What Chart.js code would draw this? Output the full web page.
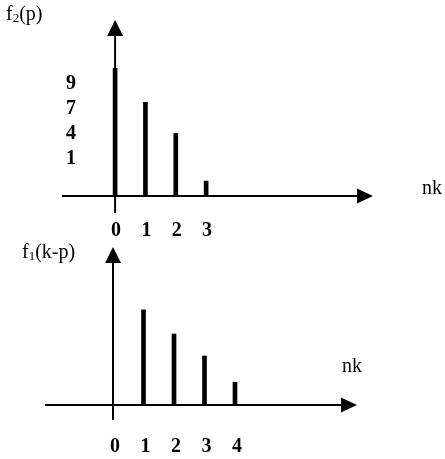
<!DOCTYPE html>
<html>
<head>
<meta charset="utf-8">
<script src="https://cdn.jsdelivr.net/npm/chart.js@4.4.1/dist/chart.umd.min.js"></script>
<style>
  html, body { margin:0; padding:0; background:#fff; }
  #wrap { position:relative; width:445px; height:459px; }
  .box { position:absolute; left:0; width:445px; }
  #b1 { top:0; height:245px; }
  #b2 { top:235px; height:224px; }
</style>
</head>
<body>
<div id="wrap">
  <div class="box" id="b1"><canvas id="c1"></canvas></div>
  <div class="box" id="b2"><canvas id="c2"></canvas></div>
</div>
<script>
// ---- data ----
const topPositions = [0, 1, 2, 3];
const topValues = [9, 6.6, 4.4, 1.05];
const topTickLabels = ['0', '1', '2', '3'];
const topSideLabels = ['9', '7', '4', '1'];
const topYLabel = ['f', '2', '(p)'];

const botPositions = [1, 2, 3, 4];
const botValues = [6.7, 5.0, 3.45, 1.6];
const botTickLabels = ['0', '1', '2', '3', '4'];
const botYLabel = ['f', '1', '(k-p)'];
const xAxisLabel = 'nk';

const SERIF = '"Liberation Serif", "Times New Roman", serif';

function drawSubLabel(ctx, parts, x, y) {
  ctx.textBaseline = 'middle';
  ctx.textAlign = 'left';
  ctx.font = '20px ' + SERIF;
  ctx.fillText(parts[0], x, y);
  let w = ctx.measureText(parts[0]).width;
  ctx.font = '13px ' + SERIF;
  ctx.fillText(parts[1], x + w, y + 4);
  w += ctx.measureText(parts[1]).width;
  ctx.font = '20px ' + SERIF;
  ctx.fillText(parts[2], x + w, y);
}

function makeAxesPlugin(cfg) {
  return {
    id: 'axes_' + cfg.id,
    beforeDatasetsDraw(chart) {
      const ctx = chart.ctx;
      const xs = chart.scales.x, ys = chart.scales.y;
      const a = chart.chartArea;
      const x0 = xs.getPixelForValue(0);
      const y0 = ys.getPixelForValue(0);
      ctx.save();
      ctx.strokeStyle = '#000';
      ctx.fillStyle = '#000';
      ctx.lineWidth = 2;
      // horizontal axis
      ctx.beginPath();
      ctx.moveTo(a.left, y0);
      ctx.lineTo(a.right - 12, y0);
      ctx.stroke();
      ctx.beginPath();
      ctx.moveTo(a.right, y0);
      ctx.lineTo(a.right - 16, y0 - 7.5);
      ctx.lineTo(a.right - 16, y0 + 7.5);
      ctx.closePath();
      ctx.fill();
      // vertical axis
      ctx.beginPath();
      ctx.moveTo(x0, a.bottom);
      ctx.lineTo(x0, a.top + 12);
      ctx.stroke();
      ctx.beginPath();
      ctx.moveTo(x0, a.top);
      ctx.lineTo(x0 - 8, a.top + 16);
      ctx.lineTo(x0 + 8, a.top + 16);
      ctx.closePath();
      ctx.fill();
      ctx.restore();
    },
    afterDatasetsDraw(chart) {
      const ctx = chart.ctx;
      const xs = chart.scales.x, ys = chart.scales.y;
      const a = chart.chartArea;
      const x0 = xs.getPixelForValue(0);
      const y0 = ys.getPixelForValue(0);
      ctx.save();
      ctx.fillStyle = '#000';
      // tick labels
      ctx.font = 'bold 20px ' + SERIF;
      ctx.textAlign = 'center';
      ctx.textBaseline = 'middle';
      cfg.ticks.forEach((t, i) => {
        ctx.fillText(t, xs.getPixelForValue(i) + cfg.tickDx, y0 + cfg.tickDy);
      });
      // side labels
      if (cfg.side) {
        cfg.side.forEach((t, i) => {
          ctx.fillText(t, x0 - 44, a.top + 64 + i * 25);
        });
      }
      // nk
      ctx.font = '20px ' + SERIF;
      ctx.fillText(xAxisLabel, cfg.nk[0], cfg.nk[1]);
      // y label
      drawSubLabel(ctx, cfg.ylabel, cfg.yl[0], cfg.yl[1]);
      ctx.restore();
    }
  };
}

function makeChart(id, positions, values, opts) {
  return new Chart(document.getElementById(id), {
    type: 'bar',
    data: {
      datasets: [{
        data: positions.map((p, i) => ({ x: p, y: values[i] })),
        backgroundColor: '#000',
        borderWidth: 0,
        barThickness: 4
      }]
    },
    options: {
      responsive: true,
      maintainAspectRatio: false,
      animation: false,
      layout: { padding: opts.padding },
      plugins: { legend: { display: false }, tooltip: { enabled: false } },
      scales: {
        x: { type: 'linear', min: opts.xmin, max: opts.xmax, display: false, offset: false },
        y: { type: 'linear', min: opts.ymin, max: opts.ymax, display: false }
      }
    },
    plugins: [makeAxesPlugin(opts.plugin)]
  });
}

makeChart('c1', topPositions, topValues, {
  padding: { left: 62, right: 72, top: 20, bottom: 32 },
  xmin: -1.75, xmax: 8.5, ymin: -1.2, ymax: 12.4,
  plugin: { id: 'top', ticks: topTickLabels, tickDx: 1, tickDy: 35, side: topSideLabels,
            nk: [432, 189], ylabel: topYLabel, yl: [6, 15] }
});

makeChart('c2', botPositions, botValues, {
  padding: { left: 45, right: 88, top: 12, bottom: 39 },
  xmin: -2.23, xmax: 8.0, ymin: -1.06, ymax: 11.13,
  plugin: { id: 'bot', ticks: botTickLabels, tickDx: 2, tickDy: 42, side: null,
            nk: [352, 132], ylabel: botYLabel, yl: [22, 18] }
});
</script>
</body>
</html>
